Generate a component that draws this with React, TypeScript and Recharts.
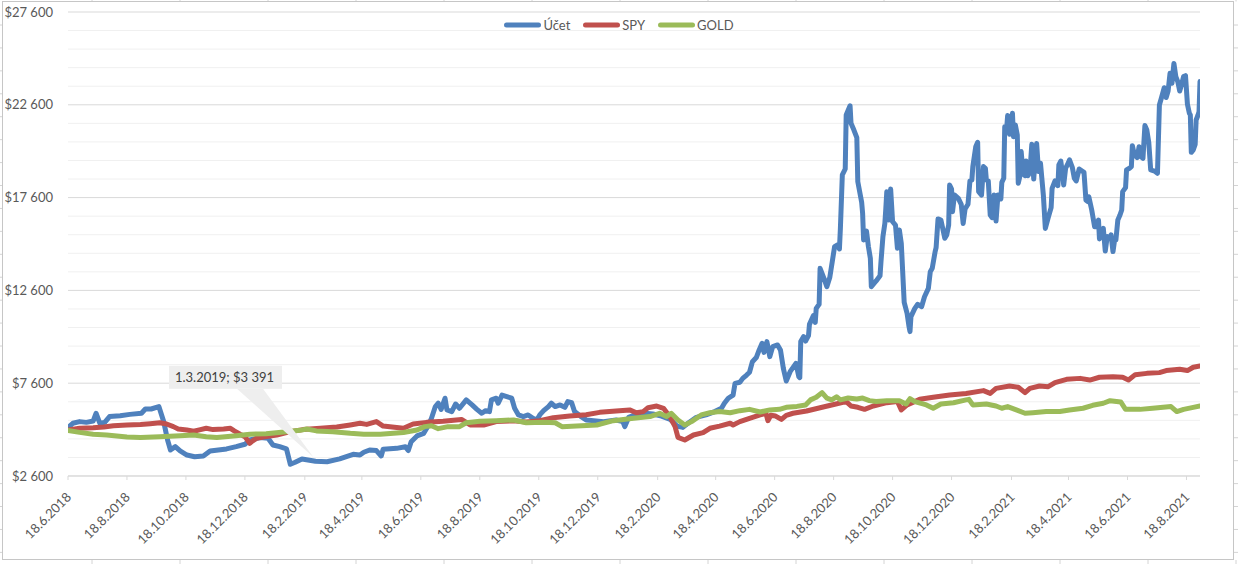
import React from 'react';
import {
  LineChart,
  Line,
  XAxis,
  YAxis,
  CartesianGrid,
  ReferenceLine,
  ReferenceDot,
  Legend,
} from 'recharts';

// ---------- data ----------
const START_DATE = '18.6.2018';
const tickLabels = [
  '18.6.2018', '18.8.2018', '18.10.2018', '18.12.2018', '18.2.2019', '18.4.2019',
  '18.6.2019', '18.8.2019', '18.10.2019', '18.12.2019', '18.2.2020', '18.4.2020',
  '18.6.2020', '18.8.2020', '18.10.2020', '18.12.2020', '18.2.2021', '18.4.2021',
  '18.6.2021', '18.8.2021',
];
const yMajorTicks = [2600, 7600, 12600, 17600, 22600, 27600];
const yMinorTicks = [
  3600, 4600, 5600, 6600, 8600, 9600, 10600, 11600, 13600, 14600, 15600, 16600,
  18600, 19600, 20600, 21600, 23600, 24600, 25600, 26600,
];
const lastDay = 1171;

const annotationDate = '1.3.2019';
const annotationValue = 3391;

const seriesNames = ['Účet', 'SPY', 'GOLD'];

// days since START_DATE
const ucetDays = [
  0, 5, 12, 19, 26, 29, 33, 38, 43, 54, 64, 76, 80, 86, 94, 99, 103, 106, 111, 116,
  123, 131, 140, 147, 164, 174, 183, 188, 199, 207, 212, 219, 226, 230, 235, 242, 256, 268, 281, 295,
  302, 306, 312, 319, 324, 326, 340, 349, 352, 355, 361, 368, 373, 376, 380, 383, 386, 390, 392, 397,
  401, 405, 412, 418, 423, 428, 432, 436, 438, 443, 445, 449, 459, 462, 466, 471, 476, 481, 485, 488,
  492, 497, 500, 504, 509, 514, 517, 521, 524, 530, 536, 554, 567, 574, 576, 580, 586, 597, 605, 614,
  623, 630, 636, 642, 650, 660, 669, 676, 679, 683, 688, 690, 695, 698, 702, 705, 708, 712, 715, 718,
  720, 723, 726, 729, 734, 737, 740, 743, 747, 753, 756, 757, 758, 761, 763, 766, 767, 771, 773, 774,
  777, 778, 782, 785, 788, 791, 793, 796, 798, 799, 801, 804, 805, 809, 810, 813, 816, 817, 821, 822,
  823, 826, 828, 830, 831, 836, 840, 841, 843, 845, 846, 847, 849, 851, 853, 856, 858, 860, 862, 865,
  868, 870, 871, 872, 876, 879, 883, 886, 890, 892, 894, 897, 898, 900, 903, 907, 909, 911, 912, 914,
  915, 917, 921, 924, 926, 928, 931, 933, 935, 936, 939, 941, 942, 945, 947, 949, 950, 952, 954, 956,
  958, 959, 960, 962, 965, 966, 968, 969, 971, 972, 974, 977, 978, 980, 982, 983, 985, 986, 988, 990,
  991, 993, 995, 997, 999, 1000, 1002, 1004, 1006, 1009, 1011, 1014, 1017, 1018, 1021, 1024, 1025, 1027, 1029, 1030,
  1032, 1035, 1036, 1039, 1041, 1043, 1046, 1049, 1051, 1053, 1055, 1056, 1059, 1060, 1062, 1064, 1066, 1067, 1069, 1071,
  1073, 1075, 1077, 1079, 1081, 1083, 1084, 1086, 1088, 1090, 1091, 1094, 1095, 1098, 1100, 1101, 1103, 1106, 1108, 1110,
  1112, 1114, 1116, 1118, 1120, 1124, 1127, 1129, 1131, 1134, 1136, 1138, 1140, 1142, 1144, 1146, 1148, 1150, 1152, 1154,
  1156, 1158, 1160, 1161, 1162, 1164, 1166, 1167, 1169, 1170, 1171,
];
const ucetValues = [
  5200, 5440, 5530, 5490, 5560, 5980, 5440, 5490, 5800, 5850, 5920, 5980, 6210, 6210, 6340, 5530, 4540, 4000, 4180, 3950,
  3730, 3640, 3680, 3950, 4060, 4180, 4310, 4540, 4670, 4630, 4270, 4180, 4060, 3230, 3340, 3520, 3391, 3370, 3520, 3770,
  3730, 3880, 4000, 3970, 3680, 4040, 4090, 4180, 3970, 4450, 4760, 4900, 5350, 5710, 6340, 6520, 6190, 6790, 6160, 6070,
  6480, 6250, 6700, 6430, 6190, 5980, 6120, 6070, 6700, 6790, 6520, 6960, 6790, 6250, 5890, 5800, 5890, 5710, 5620, 5890,
  6120, 6340, 6520, 6340, 6430, 6300, 6610, 6550, 6070, 5830, 5620, 5530, 5620, 5530, 5260, 5760, 5890, 5980, 5940, 5830,
  5650, 5290, 5220, 5470, 5760, 5890, 6070, 6250, 6520, 6790, 6960, 7590, 7650, 7860, 8040, 8190, 8760, 8980, 9390, 9750,
  9260, 9840, 9030, 9570, 9660, 9390, 8400, 7720, 8220, 8670, 7950, 7900, 9840, 10110, 9870, 10160, 10770, 11240, 10880, 11630,
  11850, 13790, 13250, 12800, 13290, 14290, 14960, 15050, 14830, 15940, 18820, 19140, 22050, 22550, 21600, 21240, 20830, 18460, 17350, 16750,
  15320, 15800, 14960, 14330, 12800, 13110, 13390, 14150, 15500, 16210, 17020, 17920, 16390, 18060, 16300, 16120, 14870, 15860, 15140, 11960,
  11360, 10650, 10380, 11190, 11630, 11850, 11720, 12260, 12710, 13610, 13790, 14690, 14900, 16450, 16390, 15410, 15590, 16120, 18280, 18060,
  16840, 17740, 17560, 17240, 16210, 16990, 17240, 18500, 18550, 19270, 20340, 20580, 17920, 17740, 19270, 19180, 18550, 18500, 16660, 16520,
  17740, 17020, 16340, 17740, 17530, 18420, 18640, 21420, 21330, 22020, 21010, 22140, 20880, 21510, 20970, 18370, 18820, 20080, 18910, 18780,
  19570, 18780, 18960, 20470, 18600, 19360, 20520, 19000, 19450, 17710, 15940, 16520, 17060, 18100, 18500, 18240, 19360, 19570, 18780, 18280,
  19180, 19500, 19630, 19210, 18640, 18500, 19140, 19030, 18960, 17470, 17380, 17650, 16930, 16630, 16030, 16030, 16390, 15370, 15770, 15940,
  14720, 15500, 15440, 15590, 14690, 15440, 15320, 16390, 16630, 16930, 17920, 18140, 19090, 19180, 19270, 20400, 19930, 19750, 20340, 19810,
  19720, 21480, 21240, 20580, 19090, 19030, 18910, 22590, 22950, 23520, 22990, 23340, 24300, 23760, 24830, 24120, 23850, 23340, 23700, 24120,
  24170, 22630, 22140, 22050, 20040, 20170, 20470, 21780, 22050, 22230, 23850,
];

const spyDays = [
  0, 12, 26, 37, 47, 61, 75, 85, 95, 102, 109, 114, 123, 130, 137, 143, 150, 161, 168, 172,
  178, 183, 188, 191, 195, 205, 216, 230, 243, 261, 278, 292, 302, 309, 319, 326, 347, 357, 371, 388,
  407, 416, 430, 443, 461, 474, 488, 502, 519, 536, 550, 567, 581, 588, 595, 600, 609, 616, 623, 628,
  631, 638, 647, 657, 664, 674, 685, 688, 695, 705, 716, 722, 724, 727, 732, 738, 743, 750, 764, 778,
  791, 805, 810, 817, 824, 833, 847, 858, 862, 868, 881, 895, 912, 929, 947, 954, 960, 974, 983, 990,
  995, 1005, 1014, 1021, 1033, 1047, 1057, 1067, 1081, 1091, 1097, 1104, 1116, 1129, 1136, 1150, 1158, 1164, 1171,
];
const spyValues = [
  5080, 5170, 5200, 5240, 5310, 5350, 5380, 5420, 5470, 5400, 5260, 5130, 5080, 5010, 5100, 5170, 5100, 5130, 5170, 5030,
  4850, 4720, 4360, 4490, 4630, 4720, 4810, 4990, 5100, 5170, 5240, 5350, 5440, 5380, 5530, 5290, 5170, 5400, 5490, 5550,
  5650, 5350, 5350, 5530, 5580, 5510, 5580, 5740, 5830, 5900, 6030, 6100, 6160, 6010, 6070, 6280, 6370, 6250, 5760, 5260,
  4680, 4540, 4810, 4940, 5170, 5290, 5440, 5350, 5530, 5710, 5890, 5980, 5580, 5870, 5830, 5650, 5870, 5980, 6100, 6280,
  6440, 6610, 6370, 6300, 6190, 6370, 6550, 6610, 6160, 6430, 6730, 6840, 6960, 7050, 7200, 7050, 7320, 7450, 7380, 7090,
  7320, 7450, 7410, 7630, 7810, 7860, 7770, 7920, 7950, 7920, 7770, 8060, 8130, 8170, 8280, 8350, 8280, 8460, 8530,
];

const goldDays = [
  0, 12, 26, 40, 61, 75, 95, 116, 130, 143, 154, 174, 188, 205, 226, 240, 247, 257, 274, 292,
  306, 323, 347, 361, 369, 376, 383, 393, 405, 412, 426, 443, 461, 474, 492, 504, 511, 526, 547, 564,
  585, 602, 612, 619, 624, 631, 638, 645, 655, 664, 674, 685, 695, 705, 716, 726, 736, 743, 754, 763,
  768, 774, 780, 785, 790, 795, 799, 807, 816, 822, 829, 836, 847, 860, 867, 871, 876, 888, 895, 903,
  916, 929, 932, 936, 950, 960, 966, 972, 981, 990, 998, 1012, 1026, 1036, 1050, 1060, 1071, 1078, 1089, 1094,
  1109, 1122, 1141, 1147, 1154, 1164, 1171,
];
const goldValues = [
  5060, 4950, 4850, 4810, 4700, 4680, 4720, 4770, 4810, 4720, 4670, 4770, 4850, 4880, 4990, 5060, 5130, 5030, 4990, 4900,
  4850, 4850, 4940, 5080, 5260, 5310, 5150, 5260, 5260, 5470, 5550, 5580, 5620, 5470, 5490, 5470, 5260, 5290, 5350, 5580,
  5710, 5800, 5980, 5800, 5980, 5620, 5350, 5530, 5890, 6010, 6070, 6010, 6120, 6190, 6050, 6160, 6190, 6300, 6350, 6430,
  6700, 6840, 7090, 6790, 6700, 6870, 6700, 6800, 6750, 6800, 6660, 6610, 6660, 6660, 6480, 6770, 6610, 6430, 6250, 6480,
  6550, 6700, 6730, 6430, 6480, 6370, 6250, 6340, 6160, 5980, 6010, 6070, 6080, 6160, 6250, 6410, 6520, 6660, 6590, 6190,
  6190, 6250, 6340, 6070, 6190, 6300, 6370,
];

// ---------- helpers ----------
const W = 1238;
const H = 564;
const FONT = 'Lato, "Open Sans", sans-serif';
const TEXT = '#595959';
const COLORS = ['#4f81bd', '#c0504d', '#9bbb59'];
const LINE_W = 5;

function parseDate(s: string): number {
  const [d, m, y] = s.split('.').map(Number);
  return Date.UTC(y, m - 1, d);
}
function dayOf(s: string): number {
  return Math.round((parseDate(s) - parseDate(START_DATE)) / 86400000);
}
function fmtMoney(v: number): string {
  const th = Math.floor(v / 1000);
  const rest = String(v % 1000).padStart(3, '0');
  return th > 0 ? `$${th} ${rest}` : `$${v}`;
}

const tickDays = tickLabels.map(dayOf);
const labelByDay: Record<number, string> = {};
tickLabels.forEach((l, i) => (labelByDay[tickDays[i]] = l));

const toRows = (days: number[], vals: number[]) => days.map((d, i) => ({ d, v: vals[i] }));
const ucetRows = toRows(ucetDays, ucetValues);
const spyRows = toRows(spyDays, spyValues);
const goldRows = toRows(goldDays, goldValues);

const annotationDay = dayOf(annotationDate);
const annotationText = `${annotationDate}; ${fmtMoney(annotationValue)}`;

// ---------- sub components ----------
const XTick = (props: any) => {
  const { x, payload } = props;
  const px = x + 4;
  const py = 498;
  return (
    <text
      x={px}
      y={py}
      transform={`rotate(-45 ${px} ${py})`}
      textAnchor="end"
      fill={TEXT}
      fontSize={13}
      fontFamily={FONT}
    >
      {labelByDay[payload.value] ?? ''}
    </text>
  );
};

const YTick = (props: any) => {
  const { y, payload } = props;
  return (
    <text x={53} y={y} dy="0.36em" textAnchor="end" fill={TEXT} fontSize={13} fontFamily={FONT}>
      {fmtMoney(payload.value)}
    </text>
  );
};

const Callout = (props: any) => {
  const { cx, cy } = props;
  if (cx == null || cy == null) return null;
  const bx = cx - 146.5;
  const by = cy - 95.5;
  const bw = 113;
  const bh = 23;
  return (
    <g>
      <polygon
        points={`${bx + 68},${by + bh} ${bx + 94},${by + bh} ${cx - 2},${cy - 4}`}
        fill="#eeeeee"
      />
      <rect x={bx} y={by} width={bw} height={bh} fill="#eeeeee" />
      <text x={bx + 6} y={by + 16} fill="#404040" fontSize={13} fontFamily={FONT}>
        {annotationText}
      </text>
    </g>
  );
};

const LegendContent = () => (
  <div
    style={{
      display: 'flex',
      justifyContent: 'center',
      alignItems: 'center',
      height: 18,
      fontFamily: FONT,
      fontSize: 13,
      color: TEXT,
    }}
  >
    {seriesNames.map((name, i) => (
      <div
        key={name}
        style={{ display: 'flex', alignItems: 'center', marginRight: i < seriesNames.length - 1 ? 13 : 0 }}
      >
        <svg width={37} height={8} style={{ display: 'block' }}>
          <line x1={2.5} y1={4} x2={34.5} y2={4} stroke={COLORS[i]} strokeWidth={5} strokeLinecap="round" />
        </svg>
        <span style={{ marginLeft: 2, lineHeight: '18px' }}>{name}</span>
      </div>
    ))}
  </div>
);

const SheetFrame = () => {
  const rowMarks: number[] = [];
  for (let y = 25; y < H; y += 22.93) rowMarks.push(y);
  const colMarks: number[] = [];
  for (let x = 92; x < W; x += 88) colMarks.push(x);
  return (
    <svg width={W} height={H} style={{ position: 'absolute', left: 0, top: 0 }}>
      <rect x={0} y={0} width={W} height={H} fill="#ffffff" />
      {rowMarks.map((y, i) => (
        <g key={'r' + i}>
          <line x1={0} y1={y} x2={2.5} y2={y} stroke="#d4d4d4" />
          <line x1={1234} y1={y} x2={W} y2={y} stroke="#d4d4d4" />
        </g>
      ))}
      {colMarks.map((x, i) => (
        <g key={'c' + i}>
          <line x1={x} y1={0} x2={x} y2={1.5} stroke="#d4d4d4" />
          <line x1={x} y1={560} x2={x} y2={H} stroke="#d4d4d4" />
        </g>
      ))}
      <rect x={2.5} y={1.5} width={1231} height={558} fill="none" stroke="#c6c6c6" strokeWidth={1} />
    </svg>
  );
};

// ---------- chart ----------
export default function App() {
  return (
    <div style={{ position: 'absolute', left: 0, top: 0, width: W, height: H, background: '#fff' }}>
      <SheetFrame />
      <div style={{ position: 'absolute', left: 0, top: 0 }}>
        <LineChart width={W} height={H} margin={{ top: 12, right: 38, bottom: 0, left: 0 }}>
          <CartesianGrid vertical={false} stroke="#d9d9d9" strokeWidth={1} />
          {yMinorTicks.map((v) => (
            <ReferenceLine key={v} y={v} stroke="#f0f0f0" strokeWidth={1} />
          ))}
          <XAxis
            type="number"
            dataKey="d"
            domain={[0, lastDay]}
            ticks={tickDays}
            interval={0}
            allowDataOverflow
            height={88}
            tick={<XTick />}
            tickSize={4}
            tickLine={{ stroke: '#d9d9d9' }}
            axisLine={{ stroke: '#d9d9d9' }}
          />
          <YAxis
            type="number"
            domain={[2600, 27600]}
            ticks={yMajorTicks}
            interval={0}
            allowDataOverflow
            width={68}
            axisLine={false}
            tickLine={false}
            tick={<YTick />}
          />
          <Legend
            layout="horizontal"
            verticalAlign="middle"
            align="center"
            wrapperStyle={{ top: 16, left: 0, width: W, height: 18 }}
            content={<LegendContent />}
          />
          <Line
            data={ucetRows}
            dataKey="v"
            name={seriesNames[0]}
            stroke={COLORS[0]}
            strokeWidth={LINE_W}
            dot={false}
            activeDot={false}
            strokeLinejoin="round"
            strokeLinecap="round"
            isAnimationActive={false}
          />
          <Line
            data={spyRows}
            dataKey="v"
            name={seriesNames[1]}
            stroke={COLORS[1]}
            strokeWidth={LINE_W}
            dot={false}
            activeDot={false}
            strokeLinejoin="round"
            strokeLinecap="round"
            isAnimationActive={false}
          />
          <Line
            data={goldRows}
            dataKey="v"
            name={seriesNames[2]}
            stroke={COLORS[2]}
            strokeWidth={LINE_W}
            dot={false}
            activeDot={false}
            strokeLinejoin="round"
            strokeLinecap="round"
            isAnimationActive={false}
          />
          <ReferenceDot
            x={annotationDay}
            y={annotationValue}
            r={0}
            ifOverflow="visible"
            shape={(p: any) => <Callout {...p} />}
          />
        </LineChart>
      </div>
    </div>
  );
}
